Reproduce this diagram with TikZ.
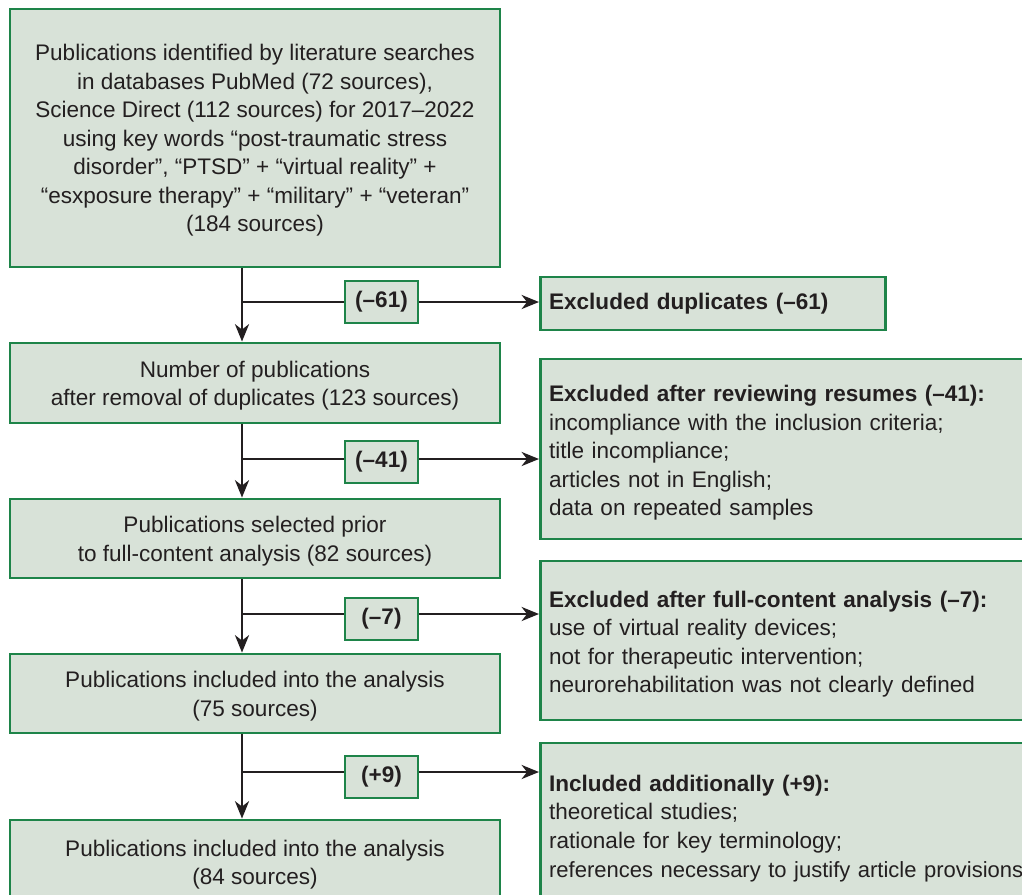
\documentclass[tikz,border=0pt]{standalone}
\usepackage{fontspec}
\setmainfont{Liberation Sans}
\usetikzlibrary{arrows.meta}
\definecolor{boxfill}{RGB}{216,226,216}
\definecolor{boxline}{RGB}{30,132,73}
\definecolor{ink}{RGB}{35,31,32}
\begin{document}
\begin{tikzpicture}[x=0.75pt,y=-0.75pt,
  font=\fontsize{16.9}{21.4}\selectfont, text=ink,
  box/.style={draw=boxline, fill=boxfill, line width=2.2pt, inner sep=0pt, align=center, minimum width=367.5pt},
  lbl/.style={draw=boxline, fill=boxfill, line width=2.2pt, inner sep=0pt, font=\fontsize{16.9}{21.4}\selectfont\bfseries, minimum width=54.75pt, minimum height=31.5pt},
  side/.style={draw=boxline, fill=boxfill, line width=2.2pt, inner xsep=6.5pt, inner ysep=0pt, anchor=west, align=left, text width=420pt},
  arr/.style={line width=2pt, draw=ink, -{Stealth[length=13pt,width=10.5pt,inset=4pt]}}]
\useasboundingbox (0,0) rectangle (1022,894);
\clip (0,0) rectangle (1022,894);
\fill[white] (0,0) rectangle (1022,894);

% main column
\node[box, minimum height=193.5pt] (b1) at (255,138) {\rule{0pt}{16pt}Publications identified by literature searches\\in databases PubMed (72 sources),\\Science Direct (112 sources) for 2017–2022\\using key words “post-traumatic stress\\disorder”, “PTSD” + “virtual reality” +\\“esxposure therapy” + “military” + “veteran”\\(184 sources)};
\node[box, minimum height=60pt] (b2) at (255,383) {\rule{0pt}{16pt}Number of publications\\after removal of duplicates (123 sources)};
\node[box, minimum height=59.25pt] (b3) at (255,538.5) {\rule{0pt}{16pt}Publications selected prior\\to full-content analysis (82 sources)};
\node[box, minimum height=59.25pt] (b4) at (255,693.5) {\rule{0pt}{16pt}Publications included into the analysis\\(75 sources)};
\node[box, minimum height=63pt] (b5) at (255,862) {\rule{0pt}{16pt}Publications included into the analysis\\(84 sources)};

% side boxes
\node[side, text width=245.75pt, minimum height=39.75pt, font=\fontsize{16.9}{21.4}\selectfont\bfseries] (r1) at (539,303.5) {Excluded duplicates (–61)};
\node[side, minimum height=135pt] (r2) at (539,449) {\rule{0pt}{18pt}\textbf{Excluded after reviewing resumes (–41):}\\incompliance with the inclusion criteria;\\title incompliance;\\articles not in English;\\data on repeated samples};
\node[side, minimum height=119.25pt] (r3) at (539,640.5) {\rule{0pt}{18pt}\textbf{Excluded after full-content analysis (–7):}\\use of virtual reality devices;\\not for therapeutic intervention;\\neurorehabilitation was not clearly defined};
\node[side, minimum height=122.25pt] (r4) at (539,824.5) {\rule{0pt}{18pt}\textbf{Included additionally (+9):}\\theoretical studies;\\rationale for key terminology;\\{\fontsize{16.5}{21.4}\selectfont references necessary to justify article provisions}};

% branch points on the trunk
\coordinate (t1) at (242,302);
\coordinate (t2) at (242,459);
\coordinate (t3) at (242,614);
\coordinate (t4) at (242,772);

% trunk arrows
\draw[arr] (b1.south -| t1) -- (b2.north -| t1);
\draw[arr] (b2.south -| t2) -- (b3.north -| t2);
\draw[arr] (b3.south -| t3) -- (b4.north -| t3);
\draw[arr] (b4.south -| t4) -- (b5.north -| t4);

% branch arrows
\draw[arr] (t1) -- (t1 -| r1.west);
\draw[arr] (t2) -- (t2 -| r2.west);
\draw[arr] (t3) -- (t3 -| r3.west);
\draw[arr] (t4) -- (t4 -| r4.west);

% labels on the branches
\node[lbl] (l1) at (381.5,302) {(–61)};
\node[lbl] (l2) at (381.5,462) {(–41)};
\node[lbl] (l3) at (381.5,619) {(–7)};
\node[lbl] (l4) at (381.5,777) {(+9)};
\end{tikzpicture}
\end{document}
